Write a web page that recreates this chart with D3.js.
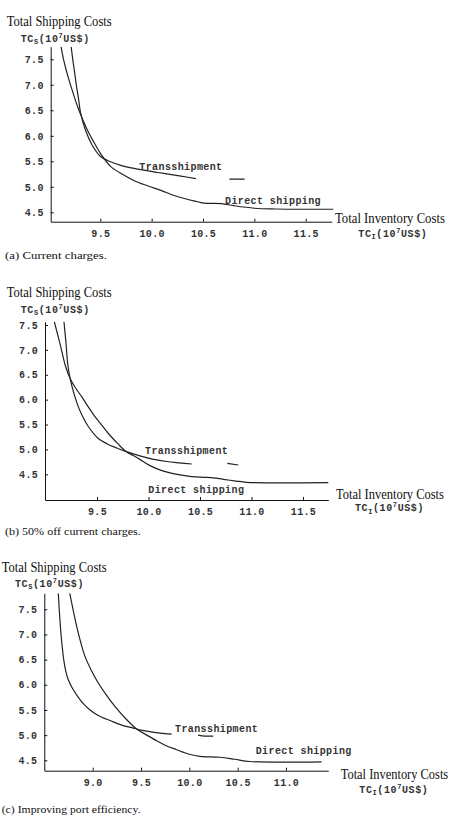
<!DOCTYPE html>
<html>
<head>
<meta charset="utf-8">
<script src="https://cdnjs.cloudflare.com/ajax/libs/d3/7.8.5/d3.min.js"></script>
<style>
  body { margin: 0; background: #fff; }
  svg { display: block; }
</style>
</head>
<body>
<div id="chart"></div>
<script>
// (a) current charges  [TC_I, TC_S], null = gap in the curve
const transA = [[9.216, 7.75], [9.235, 7.45], [9.25, 7.24], [9.27, 6.95], [9.29, 6.70], [9.307, 6.46], [9.356, 6.11],
  [9.42, 5.82], [9.50, 5.60], [9.60, 5.49], [9.70, 5.42], [9.83, 5.36], [10.06, 5.28], [10.285, 5.21], [10.43, 5.16],
  null, [10.757, 5.15], [10.905, 5.15]];
const directA = [[9.118, 7.75], [9.143, 7.49], [9.183, 7.18], [9.225, 6.90], [9.29, 6.51], [9.375, 6.11], [9.453, 5.82],
  [9.50, 5.66], [9.60, 5.40], [9.72, 5.24], [9.83, 5.12], [9.96, 5.02], [10.09, 4.93], [10.22, 4.83], [10.32, 4.77],
  [10.42, 4.72], [10.51, 4.68], [10.68, 4.67], [10.80, 4.63], [11.0, 4.58], [11.2, 4.565], [11.77, 4.56]];

// (b) 50% off current charges
const transB = [[9.179, 7.57], [9.199, 7.13], [9.215, 6.73], [9.238, 6.43], [9.275, 6.13], [9.318, 5.86], [9.365, 5.64],
  [9.415, 5.46], [9.512, 5.22], [9.60, 5.11], [9.691, 5.03], [9.78, 4.96], [9.917, 4.87], [10.05, 4.80], [10.177, 4.757],
  [10.30, 4.73], [10.42, 4.707], null, [10.765, 4.72], [10.872, 4.687]];
const directB = [[9.085, 7.57], [9.141, 7.12], [9.196, 6.66], [9.238, 6.43], [9.29, 6.24], [9.351, 6.06], [9.42, 5.84],
  [9.48, 5.66], [9.55, 5.48], [9.61, 5.32], [9.70, 5.12], [9.78, 4.96], [9.85, 4.88], [9.917, 4.80], [10.01, 4.68],
  [10.11, 4.59], [10.21, 4.53], [10.306, 4.49], [10.42, 4.455], [10.532, 4.44], [10.63, 4.43], [10.726, 4.40],
  [10.85, 4.365], [10.953, 4.34], [11.746, 4.335]];

// (c) improving port efficiency
const transC = [[8.644, 7.82], [8.655, 7.45], [8.668, 7.10], [8.683, 6.78], [8.70, 6.50], [8.72, 6.28], [8.747, 6.10],
  [8.79, 5.93], [8.851, 5.75], [8.91, 5.61], [8.972, 5.50], [9.04, 5.41], [9.10, 5.35], [9.179, 5.29], [9.30, 5.20],
  [9.42, 5.14], [9.455, 5.12], [9.56, 5.08], [9.696, 5.04], [9.817, 5.02], null, [10.09, 5.0], [10.16, 4.98], [10.247, 4.98]];
const directC = [[8.762, 7.82], [8.834, 7.16], [8.875, 6.85], [8.92, 6.564], [8.99, 6.27], [9.058, 6.035], [9.14, 5.80],
  [9.23, 5.57], [9.34, 5.33], [9.455, 5.12], [9.56, 5.0], [9.66, 4.89], [9.76, 4.79], [9.869, 4.71], [10.0, 4.62],
  [10.11, 4.576], [10.317, 4.56], [10.47, 4.52], [10.627, 4.476], [11.369, 4.47]];

// axis extents and ticks
const xDomA = [9.017, 11.753], yDomA = [4.316, 7.747];
const xDomB = [8.995, 11.746], yDomB = [3.984, 7.566];
const xDomC = [8.499, 11.438], yDomC = [4.293, 7.818];
const xTicksAB = [9.5, 10.0, 10.5, 11.0, 11.5];
const xTicksC = [9.0, 9.5, 10.0, 10.5, 11.0];
const yTicks = [4.5, 5.0, 5.5, 6.0, 6.5, 7.0, 7.5];

const yTitle = "Total Shipping Costs";
const xTitle = "Total Inventory Costs";
const transName = "Transshipment";
const directName = "Direct shipping";
const captions = ["(a) Current charges.", "(b) 50% off current charges.", "(c) Improving port efficiency."];

const serif = '"Liberation Serif", "Times New Roman", serif';
const mono = '"Liberation Mono", "Courier New", monospace';

const svg = d3.select("#chart").append("svg")
  .attr("width", 457)
  .attr("height", 822);

// layout of each panel (pixels)
const panels = [
  {x0: 50.7, x1: 331.7, y0: 46.7, y1: 221.7, xd: xDomA, yd: yDomA, xt: xTicksAB, trans: transA, direct: directA,
    title: [6.7, 26, 105], tcs: [20.7, 41.5], xlab: [335, 222.7, 110], tci: [358.3, 236.5], cap: [5, 258.5, 102],
    tl: [139.3, 169.5], dl: [225, 204]},
  {x0: 45, x1: 328.3, y0: 321.7, y1: 500, xd: xDomB, yd: yDomB, xt: xTicksAB, trans: transB, direct: directB,
    title: [6.7, 297, 105], tcs: [20.7, 312.5], xlab: [336, 499, 108], tci: [355, 511], cap: [5, 534.5, 136],
    tl: [145, 453.5], dl: [148.3, 492.5]},
  {x0: 44.3, x1: 328.3, y0: 593.3, y1: 770.7, xd: xDomC, yd: yDomC, xt: xTicksC, trans: transC, direct: directC,
    title: [1.7, 572, 105], tcs: [15, 586.5], xlab: [340.7, 779, 107.6], tci: [359.3, 792.5], cap: [1.7, 812.5, 139],
    tl: [175, 731.5], dl: [255.7, 754]}
];

// TC_S(10^7US$) style unit labels
function unitLabel(x, y, sub) {
  const t = svg.append("text")
    .attr("x", x).attr("y", y)
    .attr("font-family", mono)
    .attr("font-size", 10)
    .attr("font-weight", "bold")
    .attr("letter-spacing", 0.6)
    .attr("fill", "#333");
  t.append("tspan").text("TC");
  t.append("tspan").attr("font-size", 7).attr("dy", 2.5).text(sub);
  t.append("tspan").attr("dy", -2.5).text("(10");
  t.append("tspan").attr("font-size", 7).attr("dy", -4).text("7");
  t.append("tspan").attr("dy", 4).text("US$)");
}

// serif text squeezed horizontally to the width seen in the figure
function serifText(pos, str, size) {
  const t = svg.append("text")
    .attr("font-family", serif)
    .attr("font-size", size)
    .attr("fill", "#111")
    .text(str);
  const k = pos[2] / t.node().getComputedTextLength();
  t.attr("transform", "translate(" + pos[0] + "," + pos[1] + ") scale(" + k + ",1)");
}

function monoText(pos, str) {
  svg.append("text")
    .attr("x", pos[0]).attr("y", pos[1])
    .attr("font-family", mono)
    .attr("font-size", 10)
    .attr("font-weight", "bold")
    .attr("letter-spacing", 0.4)
    .attr("fill", "#333")
    .text(str);
}

panels.forEach((p, i) => {
  const xScale = d3.scaleLinear().domain(p.xd).range([p.x0, p.x1]);
  const yScale = d3.scaleLinear().domain(p.yd).range([p.y1, p.y0]);

  const xAxis = d3.axisBottom(xScale)
    .tickValues(p.xt)
    .tickFormat(d3.format(".1f"))
    .tickSizeInner(-3)
    .tickSizeOuter(0)
    .tickPadding(8);
  const yAxis = d3.axisLeft(yScale)
    .tickValues(yTicks)
    .tickFormat(d3.format(".1f"))
    .tickSizeInner(-3)
    .tickSizeOuter(0)
    .tickPadding(7);

  [["x", xAxis, "translate(0," + p.y1 + ")"], ["y", yAxis, "translate(" + p.x0 + ",0)"]].forEach(a => {
    const g = svg.append("g")
      .attr("class", a[0] + "axis")
      .attr("transform", a[2])
      .call(a[1]);
    g.attr("font-family", mono).attr("font-size", 10).attr("font-weight", "bold");
    g.selectAll("path, line").attr("stroke", "#111").attr("stroke-width", 1);
    g.selectAll("text").attr("fill", "#333").attr("letter-spacing", 0.3);
  });

  // keep curves in the plot box
  svg.append("clipPath").attr("id", "clip" + i)
    .append("rect")
    .attr("x", p.x0).attr("y", p.y0)
    .attr("width", p.x1 - p.x0 + 2).attr("height", p.y1 - p.y0);

  const line = d3.line()
    .defined(d => d !== null)
    .x(d => xScale(d[0]))
    .y(d => yScale(d[1]))
    .curve(d3.curveCatmullRom.alpha(0.5));

  [p.trans, p.direct].forEach(s => {
    svg.append("path")
      .datum(s)
      .attr("clip-path", "url(#clip" + i + ")")
      .attr("fill", "none")
      .attr("stroke", "#222")
      .attr("stroke-width", 1.2)
      .attr("d", line);
  });

  serifText(p.title, yTitle, 15);
  unitLabel(p.tcs[0], p.tcs[1], "S");
  serifText(p.xlab, xTitle, 15);
  unitLabel(p.tci[0], p.tci[1], "I");
  serifText(p.cap, captions[i], 11);
  monoText(p.tl, transName);
  monoText(p.dl, directName);
});
</script>
</body>
</html>
